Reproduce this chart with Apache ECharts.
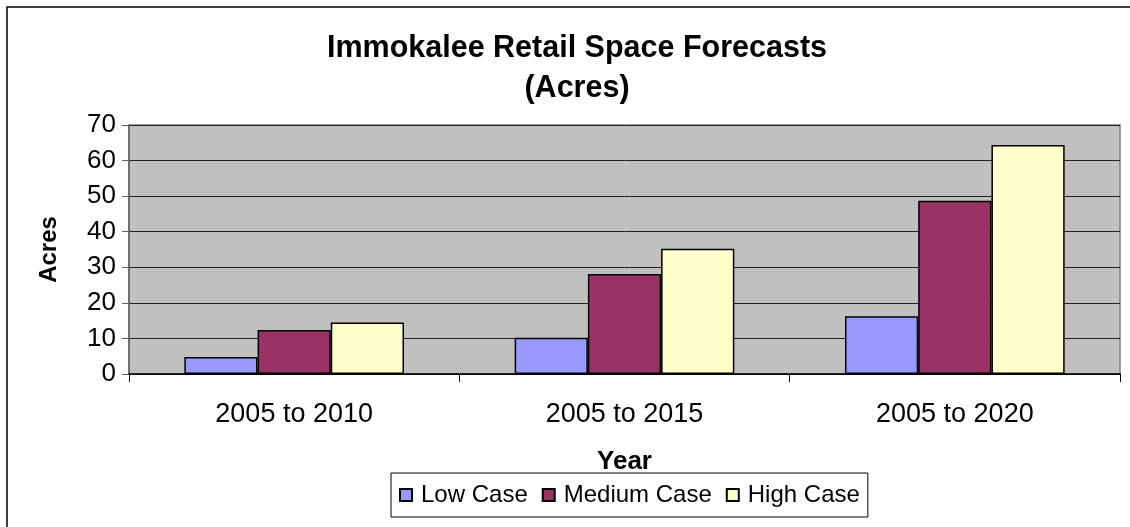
<!DOCTYPE html>
<html>
<head>
<meta charset="utf-8">
<script src="https://cdn.jsdelivr.net/npm/echarts@6/dist/echarts.min.js"></script>
<style>
html,body{margin:0;padding:0;background:#fff;}
#c{width:1130px;height:527px;}
</style>
</head>
<body>
<div id="c"></div>
<script>
const categories = ['2005 to 2010', '2005 to 2015', '2005 to 2020'];
const lowCase = [4.8, 10.2, 16.2];
const mediumCase = [12.4, 28.1, 48.7];
const highCase = [14.5, 35.2, 64.4];
const seriesNames = ['Low Case', 'Medium Case', 'High Case'];
const yTicks = [0, 10, 20, 30, 40, 50, 60, 70];

const FONT = '"Liberation Sans", Arial, sans-serif';
const chart = echarts.init(document.getElementById('c'), null, {renderer: 'canvas'});

function bar(name, data, color) {
  return {
    name: name, type: 'bar', data: data,
    barGap: '0%', barCategoryGap: '33.5%',
    itemStyle: {color: color, borderColor: '#000', borderWidth: 1.5},
    emphasis: {disabled: true}
  };
}

chart.setOption({
  animation: false,
  backgroundColor: '#fff',
  textStyle: {fontFamily: FONT},
  graphic: [{
    type: 'rect', silent: true, z: -1,
    shape: {x: 7, y: 7, width: 1200, height: 600},
    style: {fill: 'none', stroke: '#000', lineWidth: 1.5}
  }],
  title: {
    text: 'Immokalee Retail Space Forecasts\n(Acres)',
    left: 572, top: 24, textAlign: 'center',
    textStyle: {fontFamily: FONT, fontSize: 30.5, fontWeight: 'bold', color: '#000', lineHeight: 40}
  },
  grid: {
    left: 129, right: 10, top: 125, bottom: 153,
    show: true, backgroundColor: '#C0C0C0', borderColor: '#808080', borderWidth: 1.5
  },
  legend: {
    data: seriesNames,
    left: 391, top: 473,
    orient: 'horizontal',
    icon: 'rect', itemWidth: 12, itemHeight: 12, itemGap: 14,
    borderColor: '#000', borderWidth: 1, padding: [10, 8],
    textStyle: {fontFamily: FONT, fontSize: 24, color: '#000', padding: [0, 0, 0, 4]}
  },
  xAxis: {
    type: 'category', data: categories,
    name: 'Year', nameLocation: 'middle', nameGap: 75,
    nameTextStyle: {fontFamily: FONT, fontSize: 26, fontWeight: 'bold', color: '#000'},
    axisLine: {lineStyle: {color: '#000', width: 1.5}},
    axisTick: {show: true, length: 8, lineStyle: {color: '#000'}},
    axisLabel: {fontFamily: FONT, fontSize: 27, color: '#000', margin: 27}
  },
  yAxis: {
    type: 'value', min: yTicks[0], max: yTicks[yTicks.length - 1], interval: 10,
    name: 'Acres', nameLocation: 'middle', nameGap: 68, nameRotate: 90,
    nameTextStyle: {fontFamily: FONT, fontSize: 24, fontWeight: 'bold', color: '#000'},
    axisLine: {show: true, lineStyle: {color: '#606060', width: 1.5}},
    axisTick: {show: true, length: 7, lineStyle: {color: '#606060'}},
    axisLabel: {fontFamily: FONT, fontSize: 26, color: '#000', margin: 13},
    splitLine: {show: true, lineStyle: {color: '#222', width: 1}}
  },
  series: [
    bar(seriesNames[0], lowCase, '#9999FF'),
    bar(seriesNames[1], mediumCase, '#993366'),
    bar(seriesNames[2], highCase, '#FFFFCC')
  ]
});
</script>
</body>
</html>
